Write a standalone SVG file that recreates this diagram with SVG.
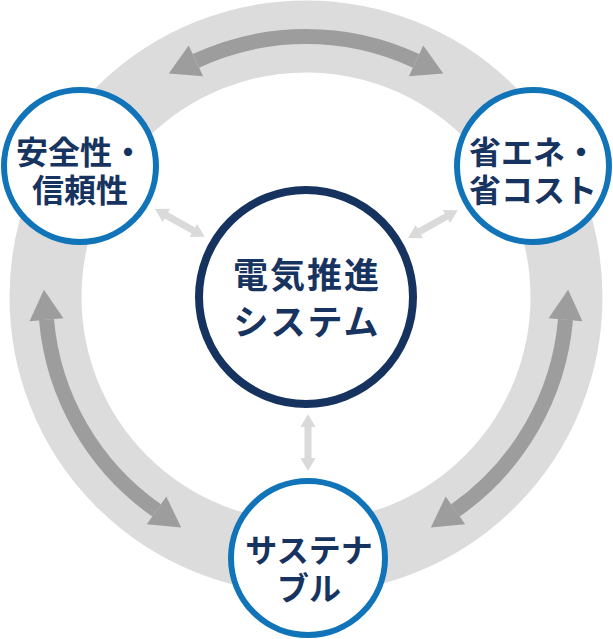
<svg xmlns="http://www.w3.org/2000/svg" width="613" height="639" viewBox="0 0 613 639">
<style>
.ring{fill:none;stroke:#dcdcdc;stroke-width:72}
.shaft{fill:none;stroke:#9d9d9d;stroke-width:15}
.head{fill:#9d9d9d}
.small{fill:#dadada}
.node{fill:#ffffff;stroke:#1174b9;stroke-width:6}
.core{fill:#ffffff;stroke:#16335f;stroke-width:8}
.lbl{font-family:"Noto Sans CJK JP","Noto Sans",sans-serif;font-weight:700;fill:#17335f;text-anchor:middle}
.s32{font-size:32px}
.s35{font-size:35px;letter-spacing:2px}
</style>
<defs>
<path id="dbl" d="M0,0 L13,-7.5 L13,-3.5 L44,-3.5 L44,-7.5 L57,0 L44,7.5 L44,3.5 L13,3.5 L13,7.5 Z"/>
</defs>
<circle class="ring" cx="306" cy="297" r="260.5"/>
<g id="connectors">
<path class="shaft" d="M195.91,60.91 A260.5,260.5 0 0 1 416.09,60.91"/>
<polygon class="head" points="168.72,73.59 188.73,45.50 203.09,76.32"/>
<polygon class="head" points="443.28,73.59 423.27,45.50 408.91,76.32"/>
<path class="shaft" d="M156.58,510.39 A260.5,260.5 0 0 1 46.49,319.71"/>
<polygon class="head" points="43.88,289.82 29.55,321.19 63.43,318.23"/>
<polygon class="head" points="181.15,527.60 146.83,524.32 166.33,496.46"/>
<path class="shaft" d="M565.51,319.71 A260.5,260.5 0 0 1 455.42,510.39"/>
<polygon class="head" points="568.12,289.82 582.45,321.19 548.57,318.23"/>
<polygon class="head" points="430.85,527.60 465.17,524.32 445.67,496.46"/>
<use href="#dbl" class="small" transform="translate(155,209) rotate(29.25)"/>
<use href="#dbl" class="small" transform="translate(408,238) rotate(-29.15)"/>
<use href="#dbl" class="small" transform="translate(308,414) rotate(90)"/>
</g>
<g id="node-safety">
<circle class="node" cx="80" cy="166" r="76"/>
<text class="lbl s32" x="80" y="164">安全性・</text>
<text class="lbl s32" x="80" y="202">信頼性</text>
</g>
<g id="node-energy">
<circle class="node" cx="533" cy="166" r="76"/>
<text class="lbl s32" x="533" y="164">省エネ・</text>
<text class="lbl s32" x="533" y="202">省コスト</text>
</g>
<g id="node-sustainable">
<circle class="node" cx="308" cy="558" r="77"/>
<text class="lbl s32" x="309" y="562">サステナ</text>
<text class="lbl s32" x="309" y="600">ブル</text>
</g>
<g id="node-core">
<circle class="core" cx="306" cy="297" r="107"/>
<text class="lbl s35" x="307" y="288">電気推進</text>
<text class="lbl s35" x="307" y="335">システム</text>
</g>
</svg>
